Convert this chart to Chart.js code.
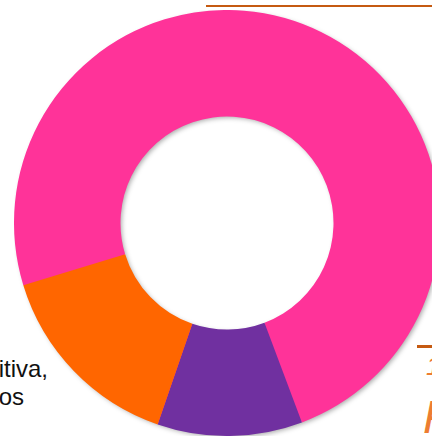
<!DOCTYPE html>
<html>
<head>
<meta charset="utf-8">
<script src="https://cdn.jsdelivr.net/npm/chart.js@4"></script>
<style>
  html, body { margin: 0; padding: 0; background: #fff; width: 432px; height: 436px; overflow: hidden; }
  #wrap { position: relative; width: 432px; height: 436px; overflow: hidden; }
  #c { position: absolute; left: 14px; top: 10px; }
  .txt { position: absolute; font-family: "Liberation Sans", Arial, sans-serif; font-size: 24px; line-height: 24px; color: #111; white-space: nowrap; }
  .otxt { position: absolute; font-family: "Liberation Sans", Arial, sans-serif; font-style: italic; color: #ED7D31; white-space: nowrap; }
  .rule { position: absolute; background: #C55A11; }
</style>
</head>
<body>
<div id="wrap">
  <div class="rule" style="left:206px; top:5px; width:226px; height:2px;"></div>
  <div class="rule" style="left:417px; top:345px; width:15px; height:3px;"></div>
  <div class="txt" style="right:384px; top:357px;">itiva,</div>
  <div class="txt" style="right:408px; top:385px;">os</div>
  <div class="otxt" style="left:426px; top:353px; font-size:26px; line-height:26px;">1</div>
  <div class="otxt" style="left:423px; top:394px; font-size:46px; line-height:46px;">F</div>
  <canvas id="c" width="426" height="426"></canvas>
</div>
<script>
const categories = ["Segmento A", "Segmento B", "Segmento C"];
const values = [74, 11, 15];
const colors = ["#FF3399", "#7030A0", "#FF6600"];

const ringShadow = {
  id: 'ringShadow',
  beforeDatasetsDraw(chart) {
    const arc = chart.getDatasetMeta(0).data[0];
    if (!arc) return;
    const { x, y, outerRadius, innerRadius } = arc.getProps(['x','y','outerRadius','innerRadius'], true);
    const ctx = chart.ctx;
    ctx.save();
    ctx.shadowColor = 'rgba(0,0,0,0.35)';
    ctx.shadowBlur = 5;
    ctx.shadowOffsetX = 2;
    ctx.shadowOffsetY = 2;
    ctx.beginPath();
    ctx.arc(x, y, outerRadius - 1, 0, Math.PI * 2);
    ctx.arc(x, y, innerRadius + 1, 0, Math.PI * 2, true);
    ctx.closePath();
    ctx.fillStyle = '#FF3399';
    ctx.fill();
    ctx.restore();
  }
};

new Chart(document.getElementById('c'), {
  type: 'doughnut',
  data: {
    labels: categories,
    datasets: [{
      data: values,
      backgroundColor: colors,
      borderWidth: 0
    }]
  },
  options: {
    responsive: false,
    animation: false,
    rotation: 253,
    cutout: '50%',
    layout: { padding: 0 },
    plugins: {
      legend: { display: false },
      tooltip: { enabled: false }
    }
  },
  plugins: [ringShadow]
});
</script>
</body>
</html>
